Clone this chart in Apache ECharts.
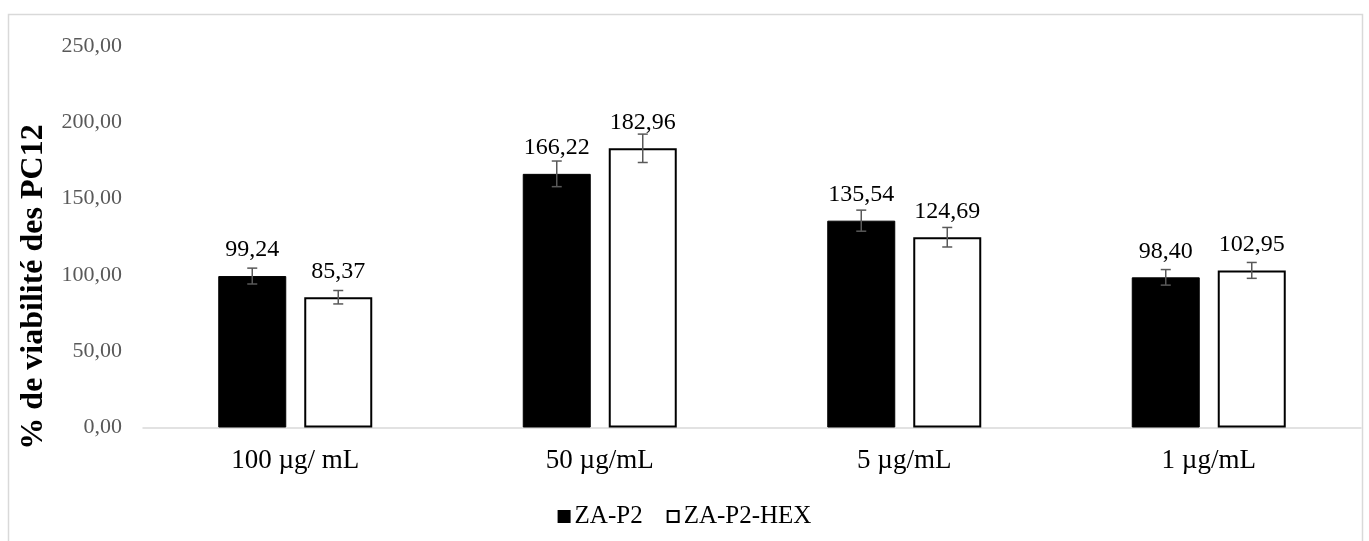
<!DOCTYPE html>
<html>
<head>
<meta charset="utf-8">
<script src="https://cdn.jsdelivr.net/npm/echarts@6/dist/echarts.min.js"></script>
<style>
html,body{margin:0;padding:0;background:#fff;}
#chart{width:1369px;height:541px;}
</style>
</head>
<body>
<div id="chart"></div>
<script>
var categories = ['100 µg/ mL', '50 µg/mL', '5 µg/mL', '1 µg/mL'];
var seriesNames = ['ZA-P2', 'ZA-P2-HEX'];
var zaP2 = [99.24, 166.22, 135.54, 98.40];
var zaP2Hex = [85.37, 182.96, 124.69, 102.95];
var zaP2Err = [5.2, 8.4, 6.9, 5.1];
var zaP2HexErr = [4.4, 9.3, 6.4, 5.2];
var yTicks = [0, 50, 100, 150, 200, 250];

var FONT = '"Liberation Serif", "Times New Roman", serif';
var BAR_W = 68;
var GAP = 18;
var OFFSET = (BAR_W + GAP) / 2;

function fmt(v) { return Number(v).toFixed(2).replace('.', ','); }

function errData(vals, errs) {
  return vals.map(function (v, i) { return [i, v, errs[i]]; });
}

function errRender(sign) {
  return function (params, api) {
    var i = api.value(0), v = api.value(1), e = api.value(2);
    var hi = api.coord([i, v + e]);
    var lo = api.coord([i, v - e]);
    var x = hi[0] + sign * OFFSET;
    var cap = 5;
    var st = { stroke: '#595959', lineWidth: 1.5 };
    return {
      type: 'group',
      children: [
        { type: 'line', shape: { x1: x, y1: hi[1], x2: x, y2: lo[1] }, style: st },
        { type: 'line', shape: { x1: x - cap, y1: hi[1], x2: x + cap, y2: hi[1] }, style: st },
        { type: 'line', shape: { x1: x - cap, y1: lo[1], x2: x + cap, y2: lo[1] }, style: st }
      ]
    };
  };
}

var chart = echarts.init(document.getElementById('chart'));
chart.setOption({
  animation: false,
  backgroundColor: '#fff',
  textStyle: { fontFamily: FONT },
  graphic: [
    {
      type: 'rect',
      shape: { x: 8.5, y: 14.5, width: 1354, height: 560 },
      style: { fill: 'none', stroke: '#d9d9d9', lineWidth: 1.5 },
      silent: true
    },
    {
      type: 'text',
      x: 34, y: 287,
      rotation: Math.PI / 2,
      style: {
        text: '% de viabilité des PC12',
        font: 'bold 32px ' + FONT,
        fill: '#000',
        align: 'center',
        verticalAlign: 'middle'
      }
    }
  ],
  grid: { left: 143, right: 8, top: 46, bottom: 113.5 },
  legend: {
    data: seriesNames,
    left: 'center',
    top: 499,
    icon: 'rect',
    itemWidth: 11,
    itemHeight: 11,
    itemGap: 24,
    textStyle: { fontFamily: FONT, fontSize: 25, color: '#000' }
  },
  xAxis: {
    type: 'category',
    data: categories,
    axisLine: { lineStyle: { color: '#d9d9d9', width: 1.5 } },
    axisTick: { show: false },
    axisLabel: { fontFamily: FONT, fontSize: 27, color: '#000', margin: 20 }
  },
  yAxis: {
    type: 'value',
    min: 0,
    max: yTicks[yTicks.length - 1],
    interval: 50,
    axisLine: { show: false },
    axisTick: { show: false },
    splitLine: { show: false },
    axisLabel: { fontFamily: FONT, fontSize: 22, color: '#595959', margin: 21, formatter: fmt }
  },
  series: [
    {
      name: seriesNames[0],
      type: 'bar',
      data: zaP2,
      barWidth: BAR_W,
      barGap: (GAP / BAR_W * 100) + '%',
      itemStyle: { color: '#000', borderColor: '#000', borderWidth: 1 },
      label: { show: true, position: 'top', distance: 14, fontFamily: FONT, fontSize: 24, color: '#000', formatter: function (p) { return fmt(p.value); } }
    },
    {
      name: seriesNames[1],
      type: 'bar',
      data: zaP2Hex,
      barWidth: BAR_W,
      itemStyle: { color: '#fff', borderColor: '#000', borderWidth: 2 },
      label: { show: true, position: 'top', distance: 14, fontFamily: FONT, fontSize: 24, color: '#000', formatter: function (p) { return fmt(p.value); } }
    },
    {
      type: 'custom',
      name: 'errA',
      data: errData(zaP2, zaP2Err),
      renderItem: errRender(-1),
      z: 5,
      silent: true
    },
    {
      type: 'custom',
      name: 'errB',
      data: errData(zaP2Hex, zaP2HexErr),
      renderItem: errRender(1),
      z: 5,
      silent: true
    }
  ]
});
</script>
</body>
</html>
